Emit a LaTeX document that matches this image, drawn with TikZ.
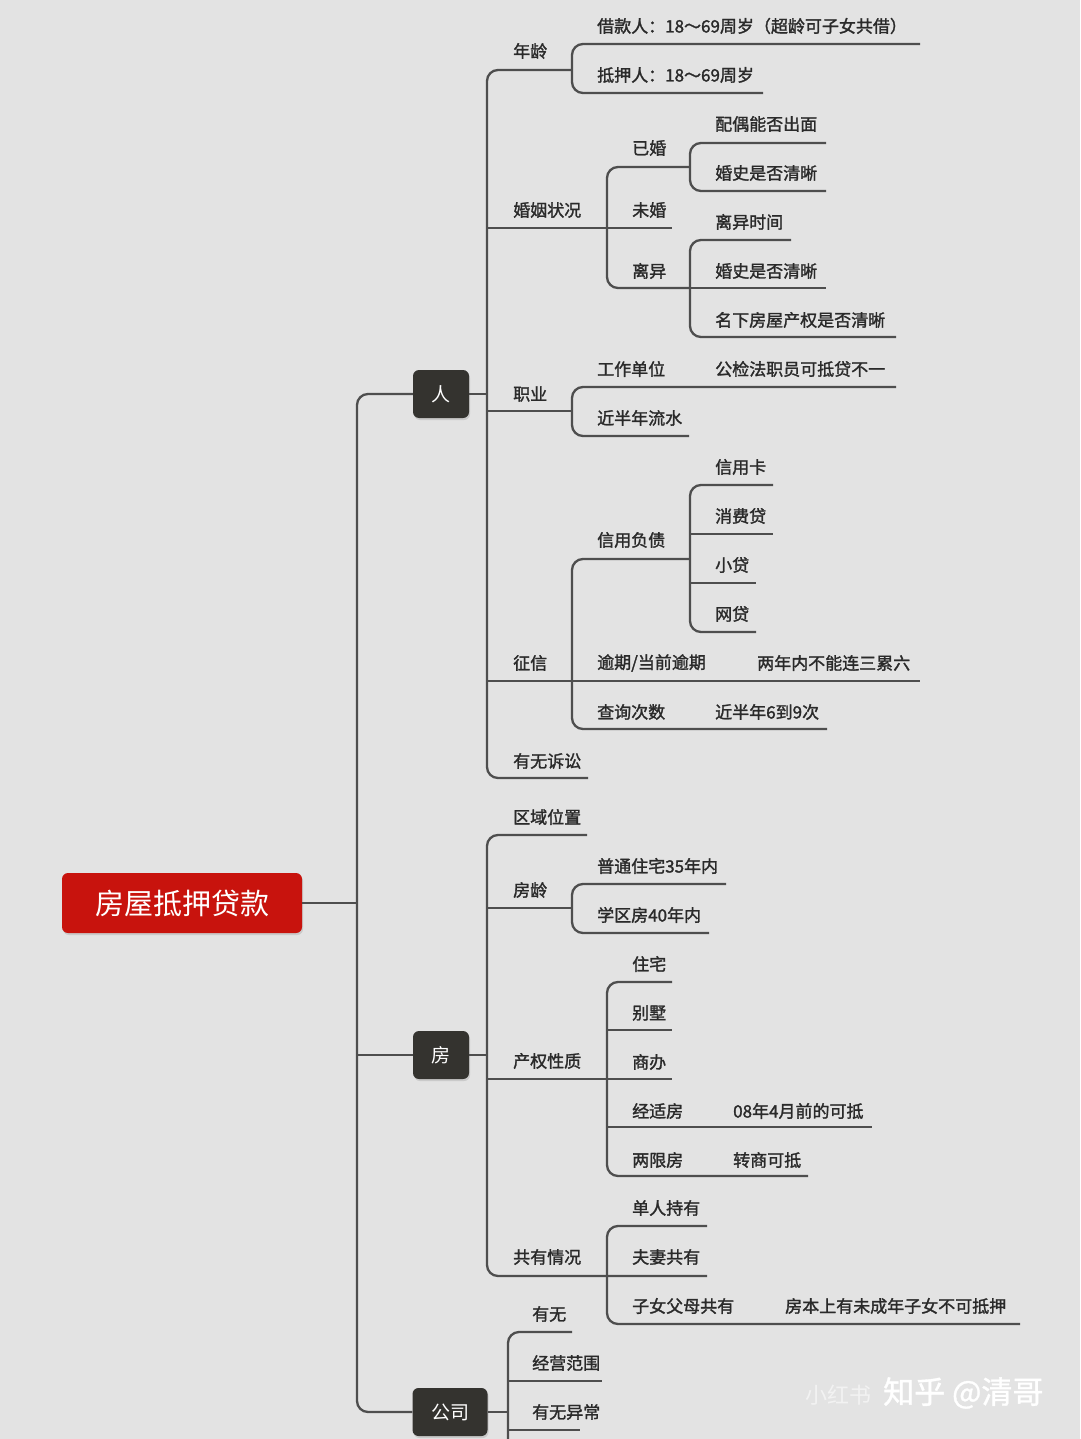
\documentclass[tikz,border=0pt]{standalone}
\usepackage{fontspec}
\setmainfont{Noto Sans CJK SC}
\newfontfamily\lblfont{Noto Sans CJK SC}[FakeBold=1.6]
\newfontfamily\markfont{Noto Sans CJK SC}[FakeBold=1.2]
\usepackage{tikz}
\usetikzlibrary{positioning,shadows}
\definecolor{bg}{HTML}{E3E3E3}
\definecolor{ink}{HTML}{2A2A2A}
\definecolor{wirecol}{HTML}{4E4E4E}
\definecolor{rootred}{HTML}{C8130D}
\definecolor{topicfill}{HTML}{34332F}

\begin{document}
\begin{tikzpicture}[x=1pt, y=-1pt,
  lbl/.style={anchor=west, inner sep=0pt, text=ink, font=\lblfont\fontsize{17}{20}\selectfont},
  topic/.style={fill=topicfill, rounded corners=6pt, text=white, minimum height=48pt,
    minimum width=56pt, inner sep=0pt, font=\fontsize{19}{22}\selectfont,
    drop shadow={opacity=0.25, shadow xshift=1pt, shadow yshift=-2pt}},
  rootbox/.style={fill=rootred, rounded corners=6pt, text=white, minimum width=240pt,
    minimum height=60pt, inner sep=0pt, font=\fontsize{29}{32}\selectfont,
    drop shadow={opacity=0.25, shadow xshift=1pt, shadow yshift=-2pt}},
  wire/.style={draw=wirecol, line width=2.3pt, rounded corners=11pt}
]
\useasboundingbox (0,0) rectangle (1080,1439);
\fill[bg] (0,0) rectangle (1080,1439);
\clip (0,0) rectangle (1080,1439);

% main topics
\node[rootbox] (root) at (182,903) {房屋抵押贷款};
\node[topic] (ren) at (441,394) {人};
\node[topic] (fang) at (441,1055) {房};
\node[topic, minimum width=75pt] (gongsi) at (450,1412) {公司};

\draw[wire] (root.east) -- (357,903);
\draw[wire] (ren.west) -- (357,394) -- (357,1412) -- (gongsi.west);
\draw[wire] (fang.west) -- (357,1055);

% --- 人 ---
\node[lbl] (nianling) at (513,51) {年龄};
\node[lbl] (jiekuan) at (597,26) {借款人：18～69周岁（超龄可子女共借）};
\node[lbl] (diya) at (597,75) {抵押人：18～69周岁};
\node[lbl] (hunyin) at (513,210) {婚姻状况};
\node[lbl] (yihun) at (632,148) {已婚};
\node[lbl] (peiou) at (715,124) {配偶能否出面};
\node[lbl] (hunshiA) at (715,173) {婚史是否清晰};
\node[lbl] (weihun) at (632,210) {未婚};
\node[lbl] (liyi) at (632,271) {离异};
\node[lbl] (liyitime) at (715,222) {离异时间};
\node[lbl] (hunshiB) at (715,271) {婚史是否清晰};
\node[lbl] (mingxia) at (715,320) {名下房屋产权是否清晰};
\node[lbl] (zhiye) at (513,394) {职业};
\node[lbl] (danwei) at (597,369) {工作单位};
\node[lbl] (gongjian) at (715,369) {公检法职员可抵贷不一};
\node[lbl] (liushui) at (597,418) {近半年流水};
\node[lbl] (zhengxin) at (513,663) {征信};
\node[lbl] (fuzhai) at (597,540) {信用负债};
\node[lbl] (xinyongka) at (715,467) {信用卡};
\node[lbl] (xiaofei) at (715,516) {消费贷};
\node[lbl] (xiaodai) at (715,565) {小贷};
\node[lbl] (wangdai) at (715,614) {网贷};
\node[lbl] (yuqi) at (597,663) {逾期/当前逾期};
\node[lbl] (liangnian) at (757,663) {两年内不能连三累六};
\node[lbl] (chaxun) at (597,712) {查询次数};
\node[lbl] (cishu) at (715,712) {近半年6到9次};
\node[lbl] (susong) at (513,761) {有无诉讼};

\draw[wire] (ren.east) -- (487,394);
\draw[wire] (572,70) -- (487,70) -- (487,778) -- (588,778);
\draw[wire] (487,228) -- (672,228);
\draw[wire] (487,411) -- (572,411);
\draw[wire] (487,681) -- (920,681);
\draw[wire] (920,44) -- (572,44) -- (572,93) -- (763,93);
\draw[wire] (690,167) -- (607,167) -- (607,288) -- (690,288);
\draw[wire] (826,143) -- (690,143) -- (690,191) -- (826,191);
\draw[wire] (791,240) -- (690,240) -- (690,337) -- (896,337);
\draw[wire] (690,288) -- (826,288);
\draw[wire] (896,387) -- (572,387) -- (572,436) -- (689,436);
\draw[wire] (690,559) -- (572,559) -- (572,729) -- (827,729);
\draw[wire] (773,485) -- (690,485) -- (690,632) -- (756,632);
\draw[wire] (690,534) -- (773,534);
\draw[wire] (690,583) -- (756,583);

% --- 房 ---
\node[lbl] (quyu) at (513,817) {区域位置};
\node[lbl] (fangling) at (513,890) {房龄};
\node[lbl] (putong) at (597,866) {普通住宅35年内};
\node[lbl] (xuequ) at (597,915) {学区房40年内};
\node[lbl] (chanquan) at (513,1061) {产权性质};
\node[lbl] (zhuzhai) at (632,964) {住宅};
\node[lbl] (bieshu) at (632,1013) {别墅};
\node[lbl] (shangban) at (632,1062) {商办};
\node[lbl] (jingshi) at (632,1111) {经适房};
\node[lbl] (kedi) at (733,1111) {08年4月前的可抵};
\node[lbl] (liangxian) at (632,1160) {两限房};
\node[lbl] (zhuanshang) at (733,1160) {转商可抵};
\node[lbl] (gongyou) at (513,1257) {共有情况};
\node[lbl] (danren) at (632,1208) {单人持有};
\node[lbl] (fuqi) at (632,1257) {夫妻共有};
\node[lbl] (zinv) at (632,1306) {子女父母共有};
\node[lbl] (fangben) at (785,1306) {房本上有未成年子女不可抵押};

\draw[wire] (fang.east) -- (487,1055);
\draw[wire] (587,835) -- (487,835) -- (487,1276) -- (707,1276);
\draw[wire] (487,908) -- (572,908);
\draw[wire] (487,1079) -- (672,1079);
\draw[wire] (726,884) -- (572,884) -- (572,933) -- (709,933);
\draw[wire] (672,982) -- (607,982) -- (607,1176) -- (808,1176);
\draw[wire] (607,1030) -- (672,1030);
\draw[wire] (607,1127) -- (872,1127);
\draw[wire] (707,1226) -- (607,1226) -- (607,1324) -- (1020,1324);

% --- 公司 ---
\node[lbl] (youwu) at (532,1314) {有无};
\node[lbl] (jingying) at (532,1363) {经营范围};
\node[lbl] (yichang) at (532,1412) {有无异常};

\draw[wire] (gongsi.east) -- (508,1412);
\draw[wire] (572,1332) -- (508,1332) -- (508,1460);
\draw[wire] (508,1381) -- (602,1381);
\draw[wire] (508,1430) -- (580,1430);

% watermark
\node[anchor=west, inner sep=0pt, text=white, opacity=0.55, font=\fontsize{22}{24}\selectfont]
  (xhs) at (805,1395) {小红书};
\node[anchor=west, inner sep=0pt, text=white, font=\markfont\fontsize{31}{34}\selectfont]
  (zhihu) at (883,1393) {知乎 @清哥};
\end{tikzpicture}
\end{document}
